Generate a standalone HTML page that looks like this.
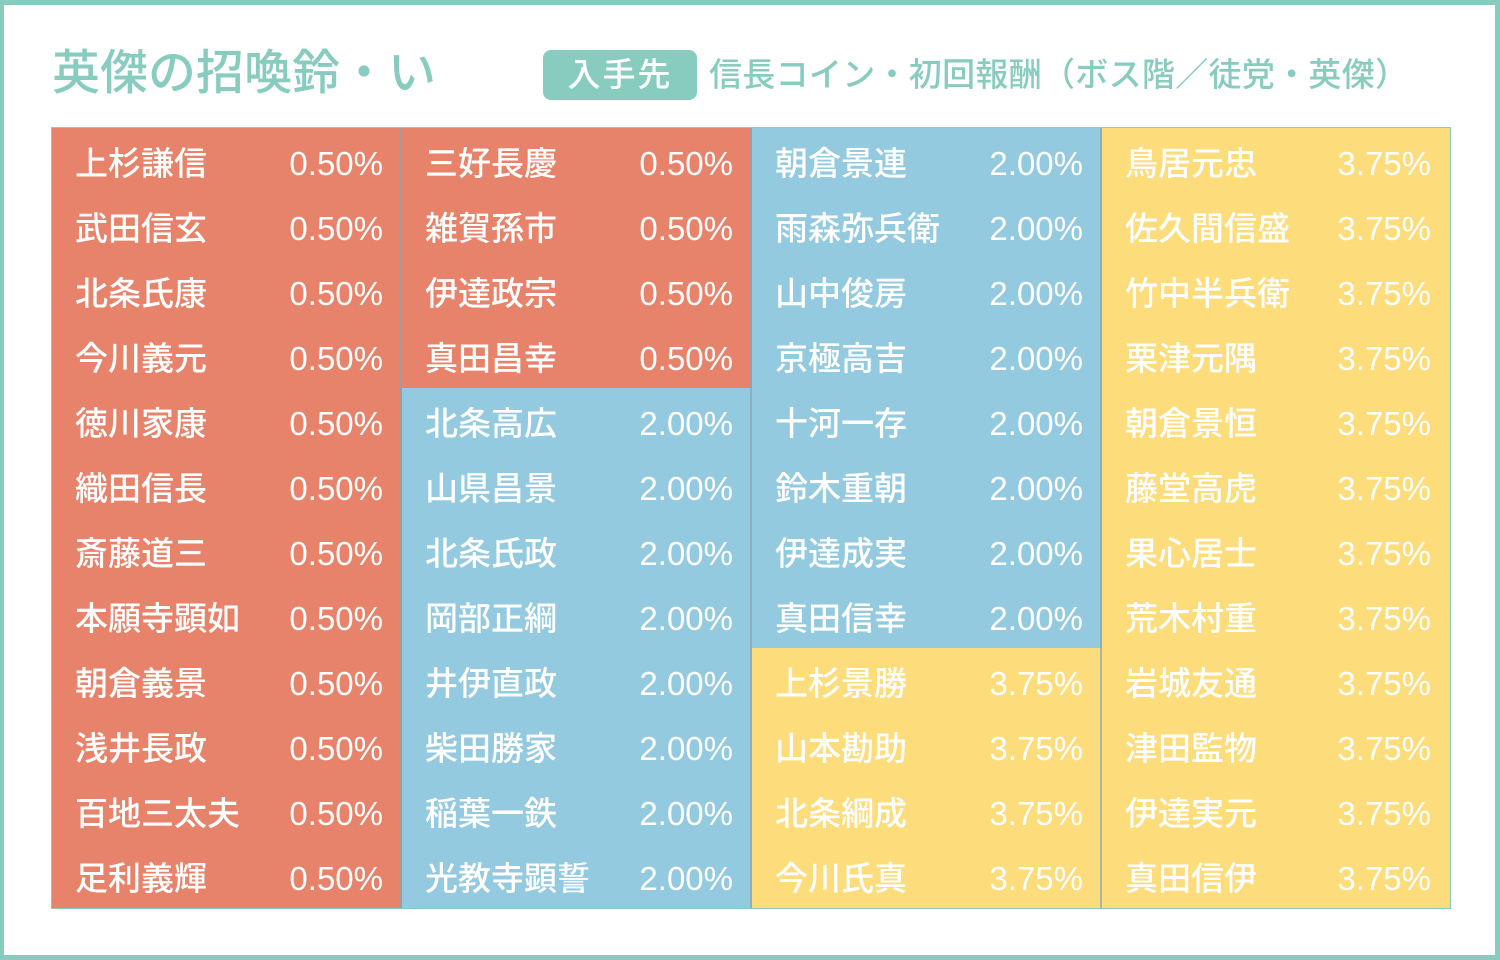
<!DOCTYPE html>
<html><head><meta charset="utf-8"><style>
*{margin:0;padding:0;box-sizing:border-box}
body{width:1500px;height:960px;background:#fff;position:relative;overflow:hidden;font-family:"Liberation Sans","Noto Sans CJK JP",sans-serif}
.frame{position:absolute;left:0;top:0;width:1500px;height:960px;border:5px solid #88CCC0;border-left-width:4px}
.t{position:absolute;left:52px;top:44px;font-size:48px;color:#88CCC0;font-weight:500;line-height:60px}
.badge{position:absolute;left:543px;top:50px;width:154px;height:50px;background:#88CCC0;border-radius:8px;color:#fff;font-size:33px;line-height:50px;text-align:center;letter-spacing:2px;font-weight:500}
.src{position:absolute;left:709px;top:50px;font-size:33px;line-height:50px;color:#88CCC0;font-weight:500;letter-spacing:0.3px}
.tbl{position:absolute;left:51px;top:127px;width:1400px;height:782px;border:2px solid #88CCC0}
.col{position:absolute;top:128px;width:350px;height:780px}
.c{height:65px;position:relative;color:#fff;font-size:33px;line-height:71px;font-weight:500}
.c .n{position:absolute;left:23px}
.c .p{position:absolute;right:19px;font-size:33px;font-weight:400}
.r{background:#E6836A}.b{background:#93CADF}.y{background:#FDDC7C}
.sep{position:absolute;top:128px;width:2px;height:780px;background:#8aa5ad;opacity:.7}
</style></head><body>
<div class="frame"></div>
<div class="t">英傑の招喚鈴・い</div>
<div class="badge">入手先</div>
<div class="src">信長コイン・初回報酬（ボス階／徒党・英傑）</div>
<div class="tbl"></div>
<div class="col" style="left:52px">
<div class="c r"><span class="n">上杉謙信</span><span class="p">0.50%</span></div>
<div class="c r"><span class="n">武田信玄</span><span class="p">0.50%</span></div>
<div class="c r"><span class="n">北条氏康</span><span class="p">0.50%</span></div>
<div class="c r"><span class="n">今川義元</span><span class="p">0.50%</span></div>
<div class="c r"><span class="n">徳川家康</span><span class="p">0.50%</span></div>
<div class="c r"><span class="n">織田信長</span><span class="p">0.50%</span></div>
<div class="c r"><span class="n">斎藤道三</span><span class="p">0.50%</span></div>
<div class="c r"><span class="n">本願寺顕如</span><span class="p">0.50%</span></div>
<div class="c r"><span class="n">朝倉義景</span><span class="p">0.50%</span></div>
<div class="c r"><span class="n">浅井長政</span><span class="p">0.50%</span></div>
<div class="c r"><span class="n">百地三太夫</span><span class="p">0.50%</span></div>
<div class="c r"><span class="n">足利義輝</span><span class="p">0.50%</span></div>
</div>
<div class="col" style="left:402px">
<div class="c r"><span class="n">三好長慶</span><span class="p">0.50%</span></div>
<div class="c r"><span class="n">雑賀孫市</span><span class="p">0.50%</span></div>
<div class="c r"><span class="n">伊達政宗</span><span class="p">0.50%</span></div>
<div class="c r"><span class="n">真田昌幸</span><span class="p">0.50%</span></div>
<div class="c b"><span class="n">北条高広</span><span class="p">2.00%</span></div>
<div class="c b"><span class="n">山県昌景</span><span class="p">2.00%</span></div>
<div class="c b"><span class="n">北条氏政</span><span class="p">2.00%</span></div>
<div class="c b"><span class="n">岡部正綱</span><span class="p">2.00%</span></div>
<div class="c b"><span class="n">井伊直政</span><span class="p">2.00%</span></div>
<div class="c b"><span class="n">柴田勝家</span><span class="p">2.00%</span></div>
<div class="c b"><span class="n">稲葉一鉄</span><span class="p">2.00%</span></div>
<div class="c b"><span class="n">光教寺顕誓</span><span class="p">2.00%</span></div>
</div>
<div class="col" style="left:752px">
<div class="c b"><span class="n">朝倉景連</span><span class="p">2.00%</span></div>
<div class="c b"><span class="n">雨森弥兵衛</span><span class="p">2.00%</span></div>
<div class="c b"><span class="n">山中俊房</span><span class="p">2.00%</span></div>
<div class="c b"><span class="n">京極高吉</span><span class="p">2.00%</span></div>
<div class="c b"><span class="n">十河一存</span><span class="p">2.00%</span></div>
<div class="c b"><span class="n">鈴木重朝</span><span class="p">2.00%</span></div>
<div class="c b"><span class="n">伊達成実</span><span class="p">2.00%</span></div>
<div class="c b"><span class="n">真田信幸</span><span class="p">2.00%</span></div>
<div class="c y"><span class="n">上杉景勝</span><span class="p">3.75%</span></div>
<div class="c y"><span class="n">山本勘助</span><span class="p">3.75%</span></div>
<div class="c y"><span class="n">北条綱成</span><span class="p">3.75%</span></div>
<div class="c y"><span class="n">今川氏真</span><span class="p">3.75%</span></div>
</div>
<div class="col" style="left:1102px;width:348px">
<div class="c y"><span class="n">鳥居元忠</span><span class="p">3.75%</span></div>
<div class="c y"><span class="n">佐久間信盛</span><span class="p">3.75%</span></div>
<div class="c y"><span class="n">竹中半兵衛</span><span class="p">3.75%</span></div>
<div class="c y"><span class="n">栗津元隅</span><span class="p">3.75%</span></div>
<div class="c y"><span class="n">朝倉景恒</span><span class="p">3.75%</span></div>
<div class="c y"><span class="n">藤堂高虎</span><span class="p">3.75%</span></div>
<div class="c y"><span class="n">果心居士</span><span class="p">3.75%</span></div>
<div class="c y"><span class="n">荒木村重</span><span class="p">3.75%</span></div>
<div class="c y"><span class="n">岩城友通</span><span class="p">3.75%</span></div>
<div class="c y"><span class="n">津田監物</span><span class="p">3.75%</span></div>
<div class="c y"><span class="n">伊達実元</span><span class="p">3.75%</span></div>
<div class="c y"><span class="n">真田信伊</span><span class="p">3.75%</span></div>
</div>
<div class="sep" style="left:400px"></div>
<div class="sep" style="left:750px"></div>
<div class="sep" style="left:1100px"></div>
</body></html>
